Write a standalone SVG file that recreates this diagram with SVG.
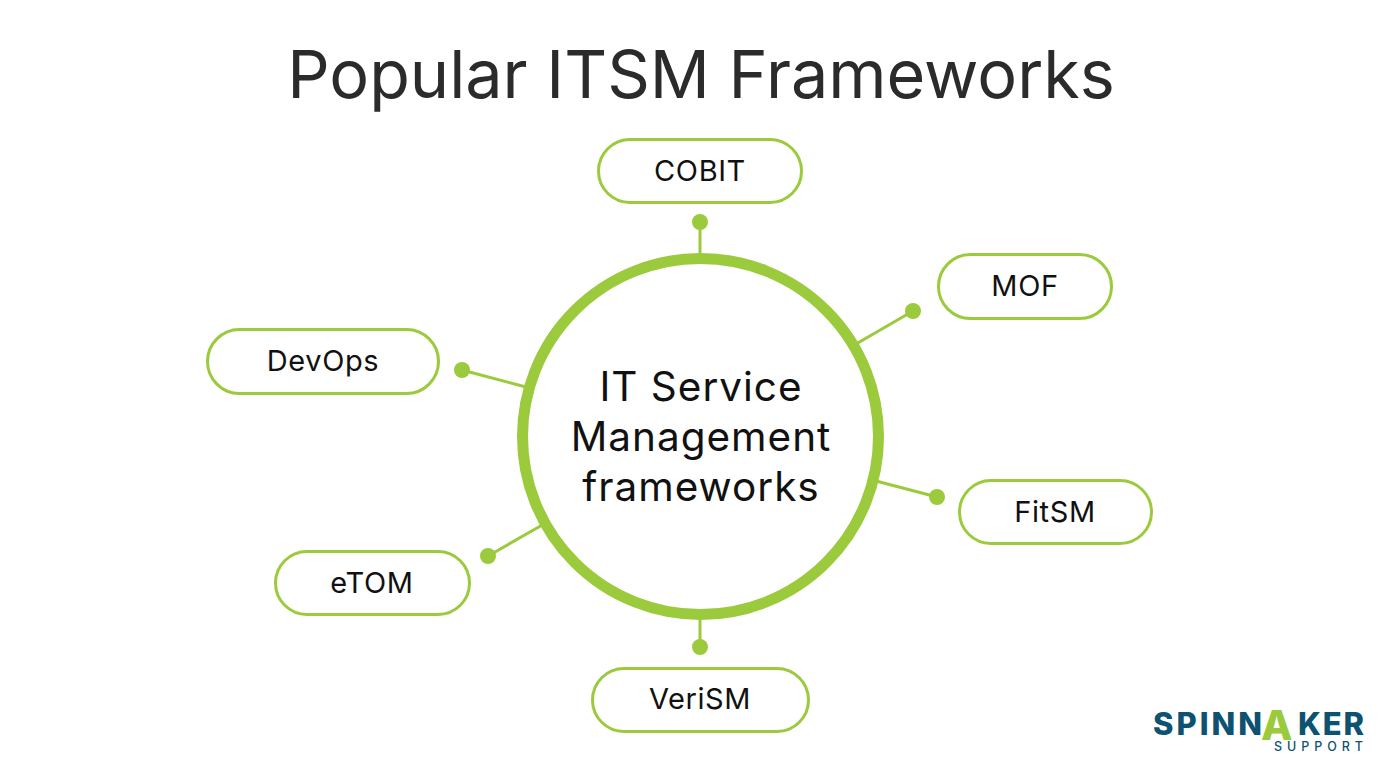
<svg xmlns="http://www.w3.org/2000/svg" width="1400" height="780" viewBox="0 0 1400 780">
<style>
text{font-family:"Inter","Liberation Sans",sans-serif;fill:#111;text-anchor:middle}
.n rect{fill:#fff;stroke:#9bca3c;stroke-width:3}
.n text{font-size:29px;letter-spacing:.6px}
.h{font-size:40.500px;letter-spacing:1px}
.c line{stroke:#9bca3c;stroke-width:3}
.c circle{fill:#9bca3c}
.l{text-anchor:start;font-weight:800;fill:#0d5270;font-size:31px}
</style>
<rect width="1400" height="780" fill="#fff"/>
<text x="701" y="98" style="font-size:66.500px;fill:#2b2b2b">Popular ITSM Frameworks</text>
<g class="c" id="connectors">
<line x1="700" y1="222" x2="700" y2="256"/><circle cx="700" cy="222" r="8"/>
<line x1="913" y1="311" x2="856" y2="344"/><circle cx="913" cy="311" r="8"/>
<line x1="937" y1="497" x2="876" y2="481"/><circle cx="937" cy="497" r="8"/>
<line x1="700" y1="647" x2="700" y2="616"/><circle cx="700" cy="647" r="8"/>
<line x1="488" y1="556" x2="544" y2="524"/><circle cx="488" cy="556" r="8"/>
<line x1="462" y1="370" x2="526" y2="387"/><circle cx="462" cy="370" r="8"/>
</g>
<g id="hub"><circle cx="700.500" cy="436.500" r="178" fill="#fff" stroke="#9bca3c" stroke-width="11"/>
<text class="h" x="701" y="401">IT Service</text><text class="h" x="701" y="451">Management</text><text class="h" x="701" y="501">frameworks</text></g>
<g class="n" id="cobit"><rect x="598.500" y="139.500" width="203" height="63" rx="31.500"/><text x="700" y="181">COBIT</text></g>
<g class="n" id="mof"><rect x="938.500" y="254.500" width="173" height="64" rx="32"/><text x="1025" y="296">MOF</text></g>
<g class="n" id="devops"><rect x="207.500" y="329.500" width="231" height="64" rx="32"/><text x="323" y="371">DevOps</text></g>
<g class="n" id="fitsm"><rect x="959.500" y="480.500" width="192" height="63" rx="31.500"/><text x="1055" y="522">FitSM</text></g>
<g class="n" id="etom"><rect x="275.500" y="551.500" width="194" height="63" rx="31.500"/><text x="372" y="593">eTOM</text></g>
<g class="n" id="verism"><rect x="592.500" y="668.500" width="216" height="63" rx="31.500"/><text x="700" y="709">VeriSM</text></g>
<g id="logo">
<text class="l" x="1153" y="735" textLength="109" lengthAdjust="spacing">SPINN</text>
<text class="l" x="1261" y="740" style="font-size:41px;fill:#9bca3c">A</text>
<text class="l" x="1298" y="735" textLength="66" lengthAdjust="spacing">KER</text>
<text x="1274" y="751" textLength="89" lengthAdjust="spacing" style="text-anchor:start;font-size:12.500px;fill:#0d5270;font-weight:500">SUPPORT</text>
</g>
</svg>
